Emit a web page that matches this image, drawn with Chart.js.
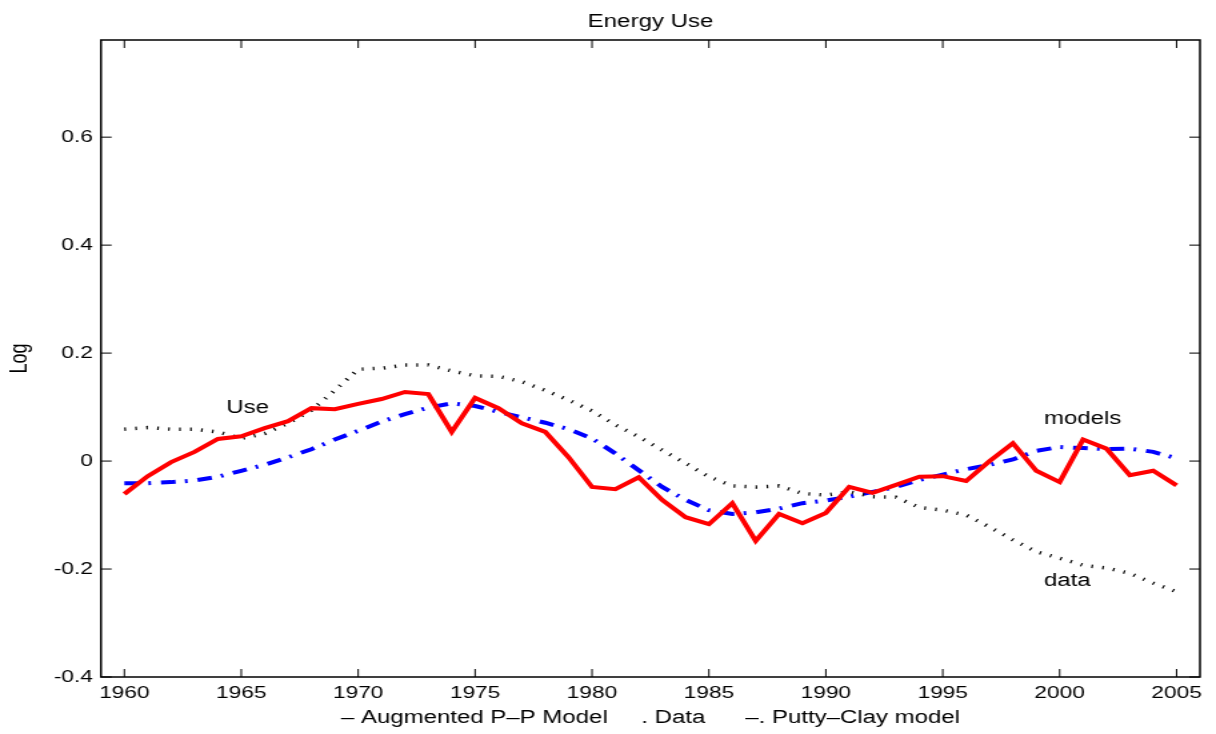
<!DOCTYPE html>
<html>
<head>
<meta charset="utf-8">
<script src="https://cdn.jsdelivr.net/npm/chart.js@4.4.1/dist/chart.umd.min.js"></script>
<style>
	html, body { margin: 0; padding: 0; background: #fff; }
	/* the original figure is stretched sideways, so the whole canvas is too */
	#wrap { width: 912px; height: 734px; transform: scaleX(1.33333); transform-origin: 0 0; }
</style>
</head>
<body>
<div id="wrap"><canvas id="Grafica1" width="912" height="734"></canvas></div>
<script>
const chartTitle = "Energy Use";
const xLabel = "– Augmented P–P Model     . Data      –. Putty–Clay model";
const yLabel = "Log";

const years = [1960, 1961, 1962, 1963, 1964, 1965, 1966, 1967, 1968, 1969,
	1970, 1971, 1972, 1973, 1974, 1975, 1976, 1977, 1978, 1979,
	1980, 1981, 1982, 1983, 1984, 1985, 1986, 1987, 1988, 1989,
	1990, 1991, 1992, 1993, 1994, 1995, 1996, 1997, 1998, 1999,
	2000, 2001, 2002, 2003, 2004, 2005];

// - Augmented P-P Model
const augmented = [-0.061, -0.028, -0.002, 0.017, 0.041, 0.046, 0.061, 0.074, 0.098, 0.096,
	0.106, 0.115, 0.128, 0.124, 0.054, 0.117, 0.098, 0.070, 0.054, 0.007,
	-0.048, -0.052, -0.030, -0.072, -0.104, -0.117, -0.078, -0.148, -0.098, -0.115,
	-0.096, -0.048, -0.059, -0.044, -0.029, -0.028, -0.037, 0.000, 0.033, -0.018,
	-0.039, 0.040, 0.023, -0.026, -0.018, -0.045];

// . Data
const data_n = [0.059, 0.062, 0.059, 0.059, 0.054, 0.042, 0.051, 0.070, 0.094, 0.131,
	0.170, 0.172, 0.178, 0.178, 0.167, 0.158, 0.157, 0.147, 0.131, 0.113,
	0.093, 0.067, 0.045, 0.020, -0.004, -0.029, -0.046, -0.048, -0.046, -0.060,
	-0.063, -0.057, -0.066, -0.067, -0.086, -0.091, -0.100, -0.122, -0.146, -0.168,
	-0.180, -0.193, -0.198, -0.208, -0.226, -0.242];

// -. Putty-Clay model
const puttyClay = [-0.041, -0.041, -0.039, -0.036, -0.029, -0.018, -0.007, 0.007, 0.022, 0.040,
	0.056, 0.073, 0.087, 0.099, 0.107, 0.102, 0.091, 0.081, 0.071, 0.059,
	0.042, 0.014, -0.017, -0.048, -0.072, -0.091, -0.098, -0.095, -0.088, -0.078,
	-0.073, -0.066, -0.057, -0.048, -0.035, -0.025, -0.015, -0.007, 0.003, 0.019,
	0.026, 0.024, 0.022, 0.023, 0.017, 0.005];

const xTicks = [1960, 1965, 1970, 1975, 1980, 1985, 1990, 1995, 2000, 2005];
const yTicks = [-0.4, -0.2, 0, 0.2, 0.4, 0.6];
const yTickLabels = ["-0.4", "-0.2", "0", "0.2", "0.4", "0.6"];

// text put on the plot, anchored in data units
const noteText = ["Use", "models", "data"];
const noteYear = [1964.36, 1999.33, 1999.33];
const noteValue = [0.089, 0.069, -0.231];

Chart.defaults.font.family = "'Liberation Sans', Arial, Helvetica, sans-serif";
Chart.defaults.color = "#000";

function toPoints(values) {
	return years.map((yr, i) => ({ x: yr, y: values[i] }));
}

// box round the axes, inward ticks on all four sides, title and notes
const boxPlugin = {
	id: "box",
	afterDraw(chart) {
		const { ctx, chartArea: a, scales } = chart;
		const tl = 8;
		ctx.save();
		ctx.strokeStyle = "#000";
		ctx.lineWidth = 1;
		ctx.beginPath();
		scales.x.ticks.forEach(t => {
			const px = scales.x.getPixelForValue(t.value);
			ctx.moveTo(px, a.bottom); ctx.lineTo(px, a.bottom - tl);
			ctx.moveTo(px, a.top); ctx.lineTo(px, a.top + tl);
		});
		scales.y.ticks.forEach(t => {
			const py = scales.y.getPixelForValue(t.value);
			ctx.moveTo(a.left, py); ctx.lineTo(a.left + tl, py);
			ctx.moveTo(a.right, py); ctx.lineTo(a.right - tl, py);
		});
		ctx.stroke();
		ctx.lineWidth = 1.5;
		ctx.strokeRect(a.left, a.top, a.right - a.left, a.bottom - a.top);

		ctx.fillStyle = "#000";
		ctx.font = "18px 'Liberation Sans', Arial, sans-serif";
		ctx.textBaseline = "alphabetic";
		ctx.textAlign = "center";
		ctx.fillText(chartTitle, (a.left + a.right) / 2, 27);

		ctx.textAlign = "left";
		noteText.forEach((s, i) => {
			ctx.fillText(s, scales.x.getPixelForValue(noteYear[i]), scales.y.getPixelForValue(noteValue[i]));
		});
		ctx.restore();
	}
};

const ctx = document.getElementById("Grafica1").getContext("2d");
let Grafica1 = new Chart(ctx, {
	type: "line",
	data: {
		datasets: [
			{
				label: "Augmented P-P Model",
				data: toPoints(augmented),
				borderColor: "#ff0000",
				borderWidth: 4,
				pointRadius: 0,
				tension: 0,
			},
			{
				label: "Data",
				data: toPoints(data_n),
				borderColor: "#000000",
				borderWidth: 3.5,
				borderDash: [1.2, 7.05],
				pointRadius: 0,
				tension: 0,
			},
			{
				label: "Putty-Clay model",
				data: toPoints(puttyClay),
				borderColor: "#0000ff",
				borderWidth: 4,
				borderDash: [11, 7, 2, 7.5],
				pointRadius: 0,
				tension: 0,
			},
		],
	},
	options: {
		responsive: false,
		animation: false,
		devicePixelRatio: 1,
		layout: { padding: { left: 0, right: 12, top: 40, bottom: 0 } },
		plugins: {
			legend: { display: false },
			tooltip: { enabled: false },
			title: { display: false },
		},
		scales: {
			x: {
				type: "linear",
				min: 1959,
				max: 2006,
				afterBuildTicks: s => { s.ticks = xTicks.map(v => ({ value: v })); },
				afterFit: s => { s.height = 57; },
				grid: { display: false, drawTicks: false },
				border: { display: false },
				ticks: {
					color: "#000",
					padding: 6,
					maxRotation: 0,
					autoSkip: false,
					font: { size: 17 },
					callback: v => String(v),
				},
				title: {
					display: true,
					text: xLabel,
					color: "#000",
					font: { size: 18 },
					padding: { top: 0, bottom: 5 },
				},
			},
			y: {
				min: -0.4,
				max: 0.78,
				afterBuildTicks: s => { s.ticks = yTicks.map(v => ({ value: v })); },
				afterFit: s => { s.width = 75.75; },
				grid: { display: false, drawTicks: false },
				border: { display: false },
				ticks: {
					color: "#000",
					padding: 6,
					font: { size: 17 },
					callback: (v, i) => yTickLabels[i],
				},
				title: {
					display: true,
					text: yLabel,
					color: "#000",
					font: { size: 18 },
					padding: { top: 4, bottom: 0 },
				},
			},
		},
	},
	plugins: [boxPlugin],
});
</script>
</body>
</html>
